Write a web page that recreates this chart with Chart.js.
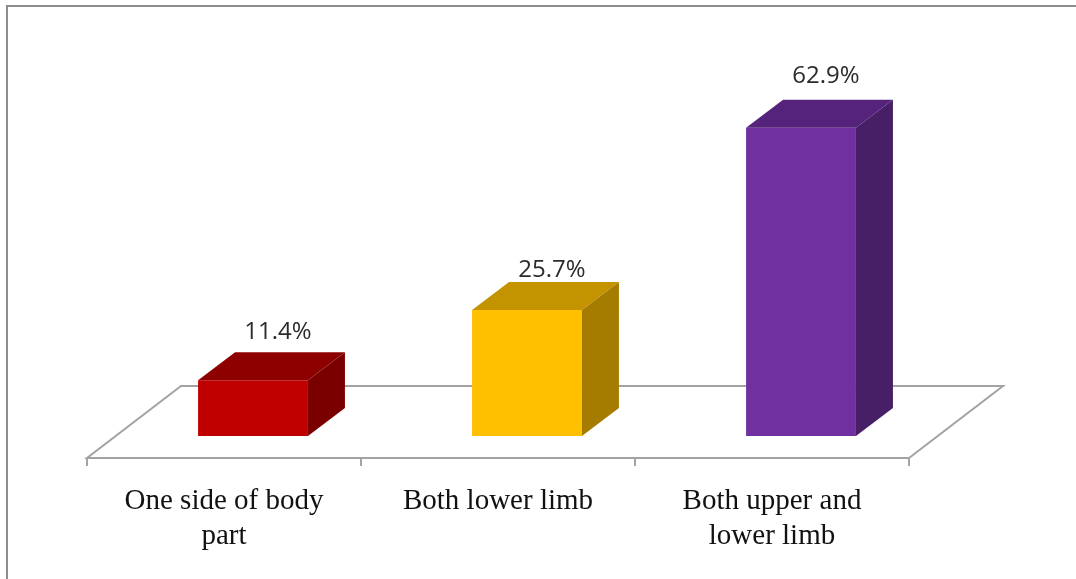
<!DOCTYPE html>
<html>
<head>
<meta charset="utf-8">
<style>
  html, body { margin: 0; background: #fff; }
  #wrap { position: absolute; left: 0; top: 0; width: 1076px; height: 579px; overflow: hidden; }
  #frame { position: absolute; left: 6px; top: 5px; right: -4px; bottom: -4px;
    border-left: 2px solid #8c8c8c; border-top: 2px solid #8c8c8c; }
  canvas { position: absolute; left: 0; top: 0; }
</style>
<script src="https://cdn.jsdelivr.net/npm/chart.js@4"></script>
</head>
<body>
<div id="wrap">
  <div id="frame"></div>
  <canvas id="chart" width="1076" height="579"></canvas>
</div>
<script>
const categories = [["One side of body", "part"], "Both lower limb", ["Both upper and", "lower limb"]];
const values = [11.4, 25.7, 62.9];
const frontColors = ["#c00000", "#ffc000", "#7030a0"];
const topColors = ["#8e0000", "#c49400", "#55237b"];
const sideColors = ["#7a0000", "#a67c00", "#461f66"];

// Oblique depth of a box, and how far the data labels sit above the front face.
const DEPTH_X = 37;
const DEPTH_Y = 28;
const LABEL_LIFT = [48, 40, 52];

// The bars stand in the middle of the floor, so the axis is drawn
// down and to the left of the zero line.
const FLOOR_FRONT_X = -29;
const FLOOR_FRONT_Y = 22;
const FLOOR_BACK_X = 65;
const FLOOR_BACK_Y = -50;
const TICK_LEN = 8;

const floor = {
  id: "floor",
  beforeDatasetsDraw(chart) {
    const { ctx, chartArea: a, scales } = chart;
    const y0 = scales.y.getPixelForValue(0);
    const l = a.left + FLOOR_FRONT_X, r = a.right + FLOOR_FRONT_X, f = y0 + FLOOR_FRONT_Y;
    ctx.save();
    ctx.strokeStyle = "#a3a3a3";
    ctx.lineWidth = 2;
    ctx.beginPath();
    ctx.moveTo(l, f);
    ctx.lineTo(r, f);
    ctx.lineTo(a.right + FLOOR_BACK_X, y0 + FLOOR_BACK_Y);
    ctx.lineTo(a.left + FLOOR_BACK_X, y0 + FLOOR_BACK_Y);
    ctx.closePath();
    for (let i = 0; i <= categories.length; i++) {
      const x = l + (i * (r - l)) / categories.length;
      ctx.moveTo(x, f);
      ctx.lineTo(x, f + TICK_LEN);
    }
    ctx.stroke();
    ctx.restore();
  },
};

// Chart.js has no 3D bars: the front face is the real bar, this adds the
// top and side faces from its measured position, then the value labels.
const boxFaces = {
  id: "boxFaces",
  afterDatasetsDraw(chart) {
    const { ctx } = chart;
    const face = (color, pts) => {
      ctx.fillStyle = color;
      ctx.beginPath();
      pts.forEach(([x, y], i) => (i ? ctx.lineTo(x, y) : ctx.moveTo(x, y)));
      ctx.closePath();
      ctx.fill();
    };
    ctx.save();
    chart.getDatasetMeta(0).data.forEach((bar, i) => {
      const { x, y, base, width } = bar.getProps(["x", "y", "base", "width"], true);
      const l = x - width / 2, r = x + width / 2;
      face(topColors[i], [[l, y], [r, y], [r + DEPTH_X, y - DEPTH_Y], [l + DEPTH_X, y - DEPTH_Y]]);
      face(sideColors[i], [[r, y], [r + DEPTH_X, y - DEPTH_Y], [r + DEPTH_X, base - DEPTH_Y], [r, base]]);
      ctx.fillStyle = "#2b2b2b";
      ctx.font = "24px 'Open Sans'";
      ctx.textAlign = "center";
      ctx.textBaseline = "middle";
      ctx.fillText(`${values[i].toFixed(1)}%`, x + 25, y - LABEL_LIFT[i]);
    });
    ctx.restore();
  },
};

new Chart(document.getElementById("chart"), {
  type: "bar",
  data: {
    labels: categories,
    datasets: [{
      data: values,
      backgroundColor: frontColors,
      borderWidth: 0,
      categoryPercentage: 1,
      barPercentage: 0.401,
    }],
  },
  options: {
    responsive: false,
    animation: false,
    layout: { padding: { left: 116, right: 138, top: 93, bottom: 0 } },
    plugins: { legend: { display: false }, tooltip: { enabled: false } },
    scales: {
      x: {
        grid: { display: false },
        border: { display: false },
        afterFit(scale) { scale.height = 143; },
        ticks: {
          color: "#111",
          font: { family: "'Liberation Serif'", size: 29, lineHeight: 1.21 },
          padding: 40,
          labelOffset: FLOOR_FRONT_X,
          maxRotation: 0,
          autoSkip: false,
        },
      },
      y: { display: false, min: 0, max: 70 },
    },
  },
  plugins: [floor, boxFaces],
});
</script>
</body>
</html>
